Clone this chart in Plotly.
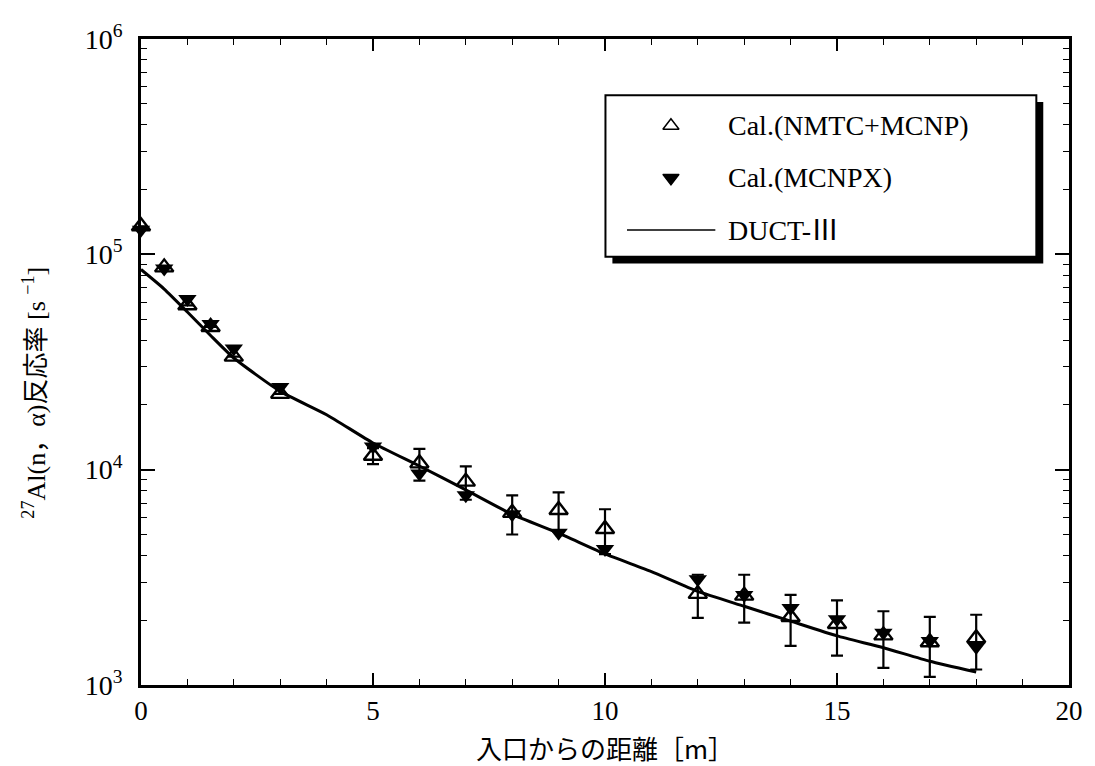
import plotly.graph_objects as go

# ---- data ----
x_calc = [0, 0.5, 1, 1.5, 2, 3, 5, 6, 7, 8, 9, 10, 12, 13, 14, 15, 16, 17, 18]
nmtc_mcnp = [1.35e5, 8.7e4, 5.8e4, 4.6e4, 3.35e4, 2.25e4, 1.16e4, 1.07e4, 8.8e3, 6.3e3,
             6.5e3, 5.3e3, 2.65e3, 2.6e3, 2.07e3, 1.92e3, 1.7e3, 1.58e3, 1.65e3]
nmtc_err = [None, None, None, None, None, None, 1.0e3, 1.8e3, 1.55e3, 1.3e3,
            1.35e3, 1.25e3, 0.6e3, 0.65e3, 0.55e3, 0.55e3, 0.5e3, 0.49e3, 0.47e3]
mcnpx = [1.3e5, 8.6e4, 6.2e4, 4.75e4, 3.65e4, 2.42e4, 1.28e4, 9.6e3, 7.6e3, 6.2e3,
         5.1e3, 4.28e3, 3.1e3, 2.62e3, 2.28e3, 2.02e3, 1.75e3, 1.6e3, 1.5e3]

duct_x = [0, 0.5, 1, 1.5, 2, 3, 4, 5, 6, 7, 8, 9, 10, 11, 12, 13, 14, 15, 16, 17, 18]
duct_y = [8.5e4, 6.9e4, 5.4e4, 4.2e4, 3.3e4, 2.31e4, 1.8e4, 1.33e4, 1.04e4, 8.05e3, 6.2e3,
          5.07e3, 4.06e3, 3.36e3, 2.72e3, 2.32e3, 1.98e3, 1.69e3, 1.49e3, 1.29e3, 1.15e3]

y_tickvals = [1e3, 1e4, 1e5, 1e6]
y_ticktext = ["10<sup>3</sup>", "10<sup>4</sup>", "10<sup>5</sup>", "10<sup>6</sup>"]
x_tickvals = [0, 5, 10, 15, 20]

legend_names = ["Cal.(NMTC+MCNP)", "Cal.(MCNPX)", "DUCT-Ⅲ"]
x_title = "入口からの距離［m］"
y_title = "<sup>27</sup>Al(n，α)反応率 [s <sup>−1</sup>]"

SERIF = "Liberation Serif, Times New Roman, Noto Sans CJK JP, serif"
CJK = "Noto Sans CJK JP, sans-serif"

# page body has an 8px default margin: size the figure so it fits the 1095x766 window
W, H = 1087, 758

fig = go.Figure()

fig.add_trace(go.Scatter(
    x=duct_x, y=duct_y, mode="lines", line=dict(color="black", width=3, shape="spline", smoothing=0.5),
    showlegend=False, cliponaxis=False))

fig.add_trace(go.Scatter(
    x=x_calc, y=nmtc_mcnp, mode="markers",
    marker=dict(symbol="triangle-up-open", size=16, color="black", line=dict(width=2.4, color="black")),
    error_y=dict(type="data", array=nmtc_err, visible=True, color="black", thickness=2.2, width=6),
    showlegend=False, cliponaxis=False))

fig.add_trace(go.Scatter(
    x=x_calc, y=mcnpx, mode="markers",
    marker=dict(symbol="triangle-down", size=16, color="black"),
    showlegend=False, cliponaxis=False))

# ---- manual legend (layout elements) ----
legend_rows = [0.811, 0.488, 0.165]
fig.add_trace(go.Scatter(
    x=[0.152, 0.152], y=legend_rows[:2], mode="markers", xaxis="x2", yaxis="y2",
    marker=dict(symbol=["triangle-up-open", "triangle-down"], size=14, color="black",
                line=dict(width=1.5, color="black")),
    showlegend=False, hoverinfo="skip", cliponaxis=False))
fig.add_trace(go.Scatter(
    x=[0.05, 0.255], y=[legend_rows[2], legend_rows[2]], mode="lines", xaxis="x2", yaxis="y2",
    line=dict(color="black", width=1.5), showlegend=False, hoverinfo="skip"))

annotations = []
for name, yy in zip(legend_names, legend_rows):
    annotations.append(dict(x=0.28, y=yy, xref="x2", yref="y2", text=name, showarrow=False,
                            xanchor="left", yanchor="middle", font=dict(family=SERIF, size=28, color="black")))

annotations.append(dict(x=0.5, y=-0.097, xref="paper", yref="paper", text=x_title, showarrow=False,
                        xanchor="center", yanchor="middle", font=dict(family=CJK, size=26, color="black")))
annotations.append(dict(x=-0.115, y=0.453, xref="paper", yref="paper", text=y_title, showarrow=False,
                        textangle=-90, xanchor="center", yanchor="middle",
                        font=dict(family=SERIF, size=26, color="black")))

# legend box with shadow (paper coords)
box = dict(x0=0.5005, x1=0.9648, y0=0.663, y1=0.913)
shadow_dx = 7 / 937
shadow_dy = 7 / 656
shapes = [
    dict(type="rect", xref="paper", yref="paper", x0=box["x0"] + shadow_dx, x1=box["x1"] + shadow_dx,
         y0=box["y0"] - shadow_dy, y1=box["y1"] - shadow_dy, fillcolor="black", line=dict(width=0), layer="below"),
    dict(type="rect", xref="paper", yref="paper", x0=box["x0"], x1=box["x1"], y0=box["y0"], y1=box["y1"],
         fillcolor="white", line=dict(color="black", width=2), layer="below"),
]

minor_y = [m * 10 ** e for e in range(3, 6) for m in range(2, 10)]

fig.update_layout(
    width=W, height=H,
    margin=dict(l=133, r=17, t=21, b=81),
    paper_bgcolor="white", plot_bgcolor="rgba(0,0,0,0)",
    font=dict(family=SERIF, size=28, color="black"),
    xaxis=dict(range=[0, 20], tickvals=x_tickvals, ticks="inside", ticklen=12, tickwidth=1.5,
               tickcolor="black", showline=True, linecolor="black", linewidth=2.5, mirror="ticks",
               showgrid=False, zeroline=False, ticklabelstandoff=0,
               minor=dict(dtick=1, ticks="inside", ticklen=6, tickwidth=1.2, tickcolor="black", showgrid=False),
               tickfont=dict(family=SERIF, size=27)),
    yaxis=dict(type="log", range=[3, 6], tickvals=y_tickvals, ticktext=y_ticktext, ticks="inside",
               ticklen=14, tickwidth=1.5, tickcolor="black", showline=True, linecolor="black",
               linewidth=2.5, mirror="ticks", showgrid=False, zeroline=False, ticklabelstandoff=10,
               minor=dict(tickvals=minor_y, ticks="inside", ticklen=6, tickwidth=1.2, tickcolor="black", showgrid=False),
               tickfont=dict(family=SERIF, size=28)),
    xaxis2=dict(domain=[box["x0"], box["x1"]], range=[0, 1], visible=False, anchor="y2", fixedrange=True),
    yaxis2=dict(domain=[box["y0"], box["y1"]], range=[0, 1], visible=False, anchor="x2", fixedrange=True),
    annotations=annotations,
    shapes=shapes,
)

fig.write_html("out.html")
